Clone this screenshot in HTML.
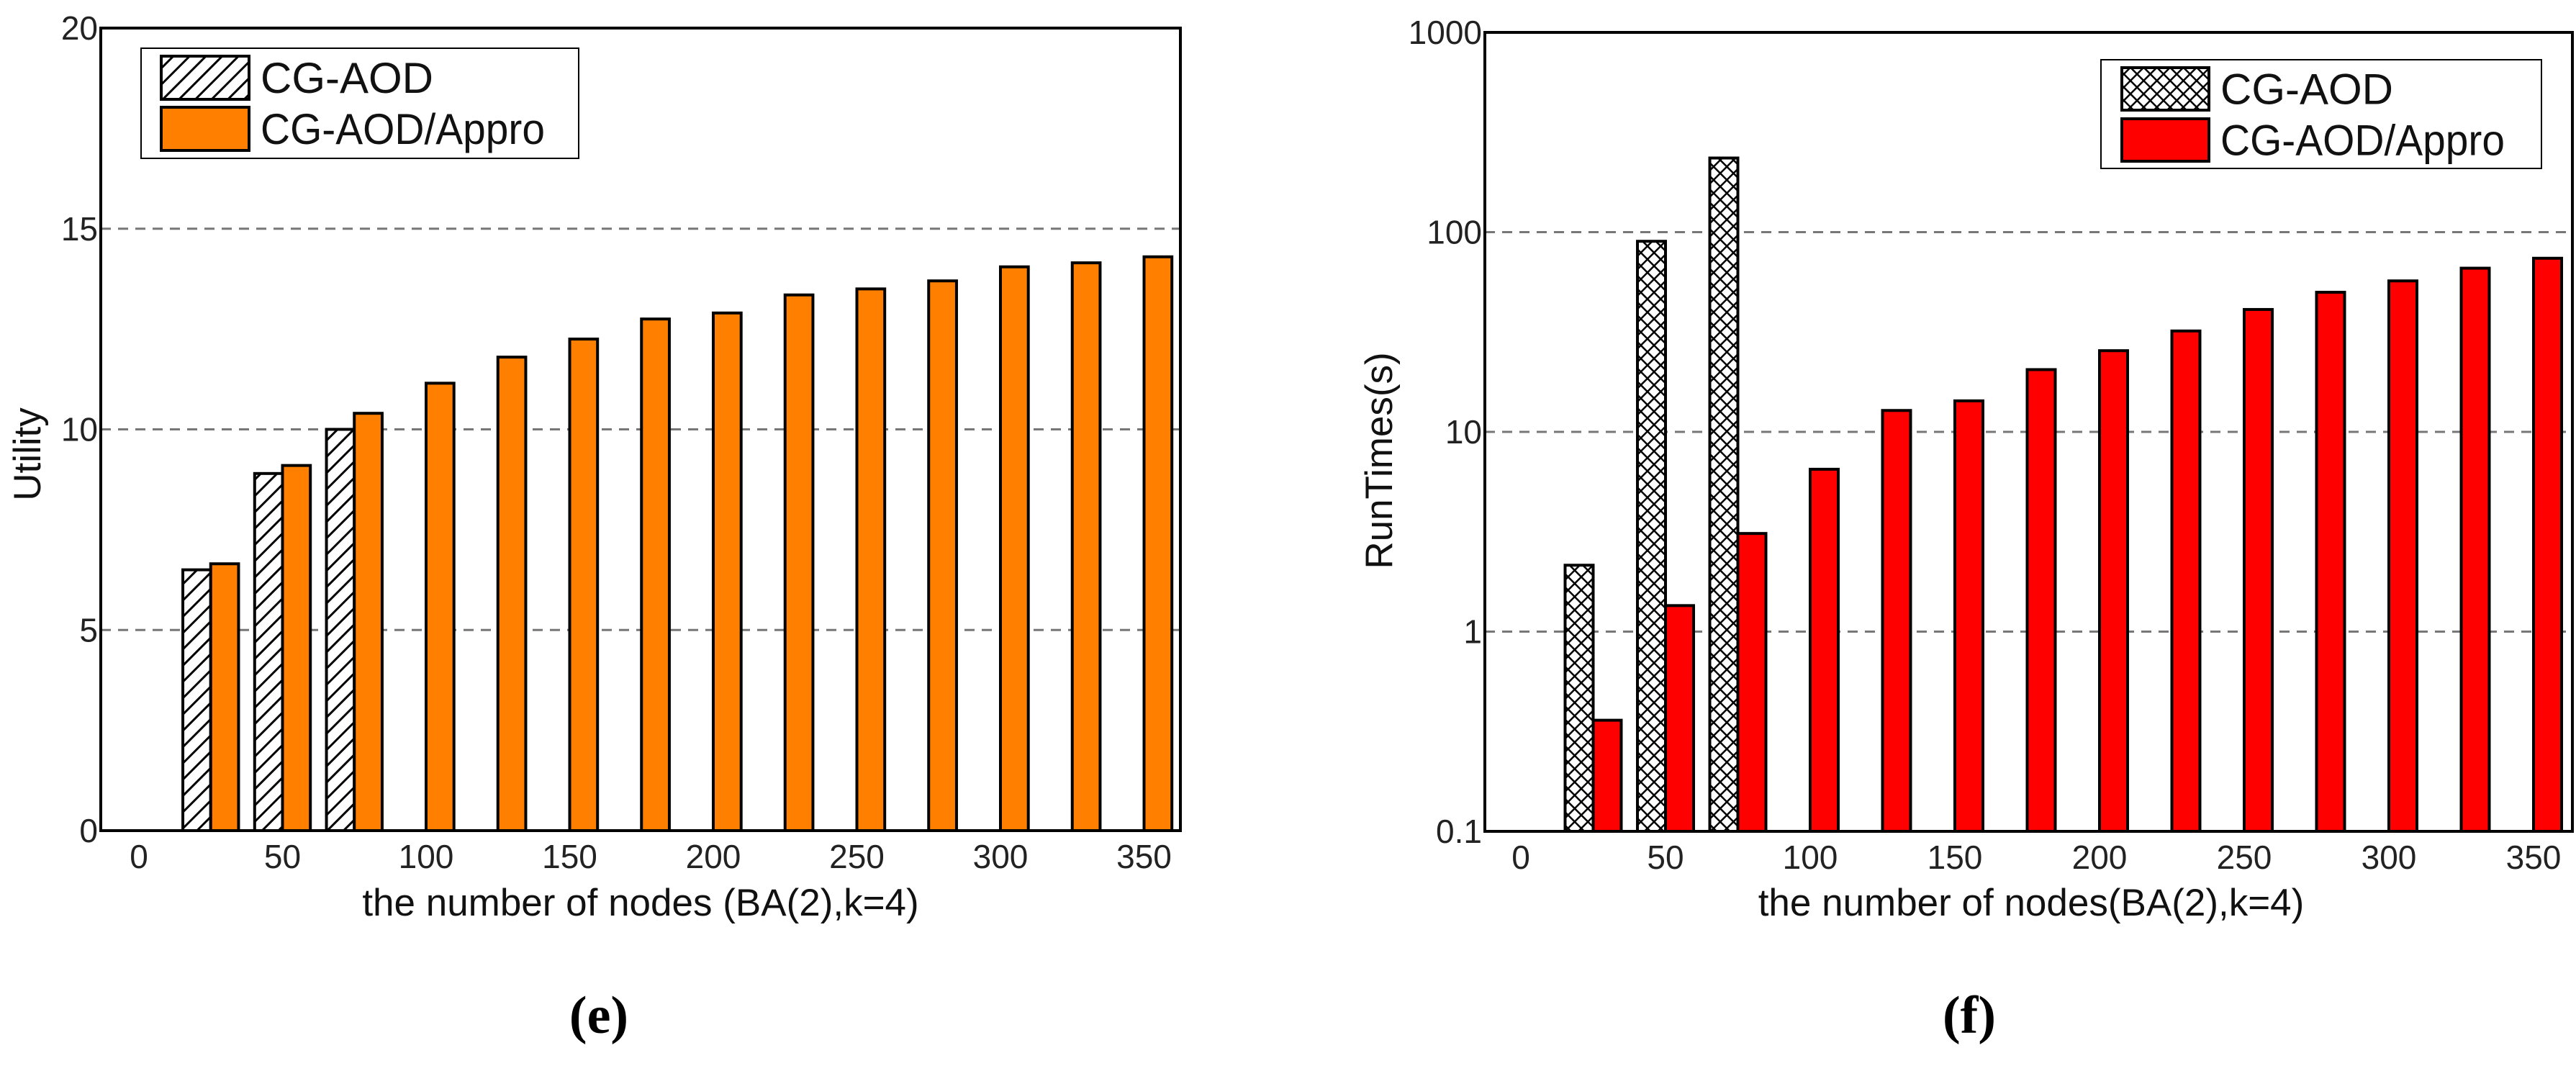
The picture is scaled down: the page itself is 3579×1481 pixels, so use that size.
<!DOCTYPE html>
<html><head><meta charset="utf-8"><style>
html,body{margin:0;padding:0;background:#fff;}
svg text{font-family:"Liberation Sans",Arial,sans-serif;}
</style></head><body>
<svg id="fig" width="3579" height="1476" viewBox="0 0 3579 1476" xmlns="http://www.w3.org/2000/svg">
<defs>
<pattern id="diag" patternUnits="userSpaceOnUse" width="16" height="16" patternTransform="rotate(45)">
<rect width="16" height="16" fill="#fff"/><line x1="0" y1="0" x2="0" y2="16" stroke="#000" stroke-width="6"/></pattern>
<pattern id="cross" patternUnits="userSpaceOnUse" width="13" height="13" patternTransform="rotate(45)">
<rect width="13" height="13" fill="#fff"/><line x1="0" y1="0" x2="0" y2="13" stroke="#000" stroke-width="5"/><line x1="0" y1="0" x2="13" y2="0" stroke="#000" stroke-width="5"/></pattern>
</defs>
<g id="left"></g>
<g id="right"></g>
</svg>
<script>
const nodes = [25,50,75,100,125,150,175,200,225,250,275,300,325,350];
const xTicks = [0,50,100,150,200,250,300,350];
const utilCG = [6.5,8.9,10.0];
const utilAppro = [6.65,9.1,10.4,11.15,11.8,12.25,12.75,12.9,13.35,13.5,13.7,14.05,14.15,14.3];
const utilTicks = [0,5,10,15,20];
const timeCG = [2.15,90,235];
const timeAppro = [0.36,1.35,3.1,6.5,12.8,14.3,20.5,25.5,32,41,50,57,66,74];
const timeTicks = [0.1,1,10,100,1000];
const timeTickLabels = ["0.1","1","10","100","1000"];

const NS="http://www.w3.org/2000/svg";
function mk(parent,tag,attrs,text){const e=document.createElementNS(NS,tag);for(const k in attrs)e.setAttribute(k,attrs[k]);if(text!==undefined)e.textContent=text;parent.appendChild(e);return e;}

function chart(g,o){
  const xs=v=>o.x0+(v)*o.xu;
  const ys=o.ys;
  o.grid.forEach(t=>{const l=mk(g,'line',{x1:o.L,x2:o.R,y1:ys(t),y2:ys(t),stroke:'#777','stroke-width':3,'stroke-dasharray':'14,10'});
    
    });
  o.cg.forEach((v,i)=>{const n=nodes[i];const r=mk(g,'rect',{x:xs(n-9.7),y:ys(v),width:9.7*o.xu,height:o.B-ys(v),fill:o.pat,stroke:'#000','stroke-width':4});
    
    });
  o.ap.forEach((v,i)=>{const n=nodes[i];const r=mk(g,'rect',{x:xs(n),y:ys(v),width:9.7*o.xu,height:o.B-ys(v),fill:o.col,stroke:'#000','stroke-width':4});
    
    });
  const bx=mk(g,'rect',{x:o.L,y:o.T,width:o.R-o.L,height:o.B-o.T,fill:'none',stroke:'#000','stroke-width':4});
  
  
  o.yt.forEach((t,i)=>{const tx=mk(g,'text',{x:o.L-4,y:ys(t)+16,'text-anchor':'end','font-size':46,fill:'#222'},o.ytl[i]);
    
    });
  xTicks.forEach(t=>{const tx=mk(g,'text',{x:xs(t),y:o.B+52,'text-anchor':'middle','font-size':46,fill:'#222'},String(t));
    
    });
  const xt=mk(g,'text',{x:o.xtx,y:1272,'text-anchor':'middle','font-size':53,fill:'#111'},o.xtitle);
  
  
  const yt=mk(g,'text',{x:0,y:0,'text-anchor':'middle','font-size':53,fill:'#111',transform:`translate(${o.ytx},${o.yty}) rotate(-90)`},o.ytitle);
  
  
  const cap=mk(g,'text',{x:o.capx,y:1435,'text-anchor':'middle','font-size':74,'font-weight':'bold',style:'font-family:"Liberation Serif",serif'},o.cap);
  
  
  const lg=mk(g,'g',{});
  
  
  mk(lg,'rect',{x:o.lg[0],y:o.lg[1],width:o.lg[2],height:o.lg[3],fill:'#fff',stroke:'#000','stroke-width':2});
  const s1=mk(lg,'rect',{x:o.sw[0],y:o.sw[1],width:o.sw[2],height:o.sw[3],fill:o.pat,stroke:'#000','stroke-width':4});
  
  
  const s2=mk(lg,'rect',{x:o.sw[0],y:o.sw[4],width:o.sw[2],height:o.sw[3],fill:o.col,stroke:'#000','stroke-width':4});
  
  
  const t1=mk(lg,'text',{x:o.sw[0]+o.sw[2]+16,y:o.sw[1]+o.sw[3]/2+21,'font-size':60,fill:'#111'},'CG-AOD');
  
  
  const t2=mk(lg,'text',{x:o.sw[0]+o.sw[2]+16,y:o.sw[4]+o.sw[3]/2+21,'font-size':60,fill:'#111',textLength:o.tl,lengthAdjust:'spacingAndGlyphs'},'CG-AOD/Appro');
  
  
}
(function(){const T=39,B=1154;
chart(document.getElementById('left'),{L:140,R:1640,T:T,B:B,x0:193,xu:3.99,
 ys:v=>B-(v/20)*(B-T),grid:[5,10,15],cg:utilCG,ap:utilAppro,pat:'url(#diag)',col:'#FF8000',
 yt:utilTicks,ytl:utilTicks.map(String),xtitle:'the number of nodes (BA(2),k=4)',xtx:890,
 ytitle:'Utility',ytx:56,yty:631,cap:'(e)',capx:832,tl:395,
 lg:[196,67,608,153],sw:[224,78,122,60,149]});})();
(function(){const T=45,B=1155;
chart(document.getElementById('right'),{L:2063,R:3574,T:T,B:B,x0:2113,xu:4.02,
 ys:v=>B-((Math.log10(v)+1)/4)*(B-T),grid:[1,10,100],cg:timeCG,ap:timeAppro,pat:'url(#cross)',col:'#FF0000',
 yt:timeTicks,ytl:timeTickLabels,xtitle:'the number of nodes(BA(2),k=4)',xtx:2822,
 ytitle:'RunTimes(s)',ytx:1934,yty:640,cap:'(f)',capx:2736,tl:395,
 lg:[2919,83,612,151],sw:[2948,94,121,59,165]});})();
</script>
</body></html>
